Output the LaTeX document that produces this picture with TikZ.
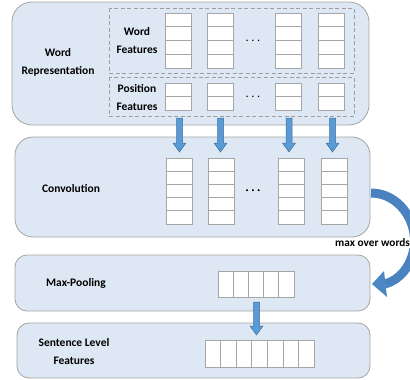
\documentclass[tikz,border=0pt]{standalone}
\usepackage{fontspec}
\setmainfont{Carlito}
\usetikzlibrary{calc}

\definecolor{panelblue}{HTML}{DEE8F4}
\definecolor{boxgray}{HTML}{A3A3A3}
\definecolor{cellgray}{HTML}{A6A6A6}
\definecolor{dashgray}{HTML}{9E9E9E}
\definecolor{arrowblue}{HTML}{5B9BD5}
\definecolor{arrowedge}{HTML}{41719C}
\definecolor{curveblue}{HTML}{4A82C0}

% a column of n stacked cells: x, top y, number of cells, cell height, cell width
\newcommand\cellcolumn[5]{%
  \foreach \i in {1,...,#3}
    \draw[cell] (#1,{#2+(\i-1)*#4}) rectangle ++(#5,#4);}
% a row of n side-by-side cells: left x, top y, number of cells, cell width, cell height
\newcommand\cellrow[5]{%
  \foreach \i in {1,...,#3}
    \draw[cell] ({#1+(\i-1)*#4},#2) rectangle ++(#4,#5);}
% a vertical block arrow from coordinate #1 down to coordinate #2
\newcommand\downblock[2]{%
  \filldraw[blockarrow] ($(#1)+(-3,0)$) -- ($(#1)+(3,0)$) -- ($(#2)+(3,-9)$)
    -- ($(#2)+(6.5,-9)$) -- (#2) -- ($(#2)+(-6.5,-9)$) -- ($(#2)+(-3,-9)$) -- cycle;}

\begin{document}
\begin{tikzpicture}[x=1pt,y=-1pt,
  panel/.style={draw=boxgray, fill=panelblue, line width=0.8pt},
  cell/.style={draw=cellgray, fill=white, line width=0.9pt},
  group/.style={draw=dashgray, line width=0.9pt, dash pattern=on 4pt off 2.5pt},
  lbl/.style={font=\bfseries\fontsize{11.5}{18}\selectfont, align=center, text=black},
  dots/.style={font=\bfseries\fontsize{10}{12}\selectfont},
  blockarrow/.style={fill=arrowblue, draw=arrowedge, line width=0.5pt}]
\useasboundingbox (0,0) rectangle (410,380);

% panels
\draw[panel, rounded corners=20] (12,2) rectangle (369,125);
\draw[panel, rounded corners=18] (15,137) rectangle (370,237);
\draw[panel, rounded corners=12] (15,255) rectangle (370,311);
\draw[panel, rounded corners=12] (17,323) rectangle (370,378);

% word representation: word features and position features
\draw[group] (109,8) rectangle (354,73);
\draw[group] (109,77) rectangle (354,116);
\foreach \x in {165,207,275,318} {
  \cellcolumn{\x}{13}{4}{13.75}{26}
  \cellcolumn{\x}{83}{2}{13.5}{26}
}
\node[dots] (wrdots) at (253,41) {. . .};
\node[dots] (posdots) at (253,97) {. . .};

\node[lbl] (wordrep) at (58,62) {Word\\Representation};
\node[lbl] (wordfeat) at (137,41) {Word\\Features};
\node[lbl] (posfeat) at (137,97) {Position\\Features};

% convolution
\foreach \x in {166,208,278,321}
  \cellcolumn{\x}{158}{5}{13.2}{26}
\node[dots] (convdots) at (253,191) {. . .};
\node[lbl] (conv) at (71,188) {Convolution};

% max-pooling and sentence level features
\cellrow{218}{271}{5}{15.2}{26}
\cellrow{205}{340}{7}{15.6}{27}
\node[lbl] (pool) at (76,283) {Max-Pooling};
\node[lbl] (sent) at (74,352) {Sentence Level\\Features};

% arrows from the input columns to the convolution columns
\foreach \n/\x in {1/179.5,2/220.5,3/289,4/332.5} {
  \coordinate (in\n) at (\x,118);
  \coordinate (cv\n) at (\x,152);
  \downblock{in\n}{cv\n}
}
\coordinate (poolout) at (256.5,302);
\coordinate (sentin) at (256.5,335);
\downblock{poolout}{sentin}

% curved arrow: max over words
\coordinate (convR) at (371,193);
\coordinate (headbase) at (385,284);
\coordinate (poolR) at (372,284);
\draw[curveblue, line width=9pt] (convR) .. controls (398,193) and (418,220) .. (414,248)
  .. controls (411,266) and (400,280) .. (headbase);
\fill[curveblue!85!arrowblue] (poolR) -- (384,271) -- (387,297) -- cycle;
\node[font=\bfseries\fontsize{11.3}{12}\selectfont, fill=white, inner sep=1pt, anchor=west]
  (maxwords) at (334,243) {max over words};
\end{tikzpicture}
\end{document}
